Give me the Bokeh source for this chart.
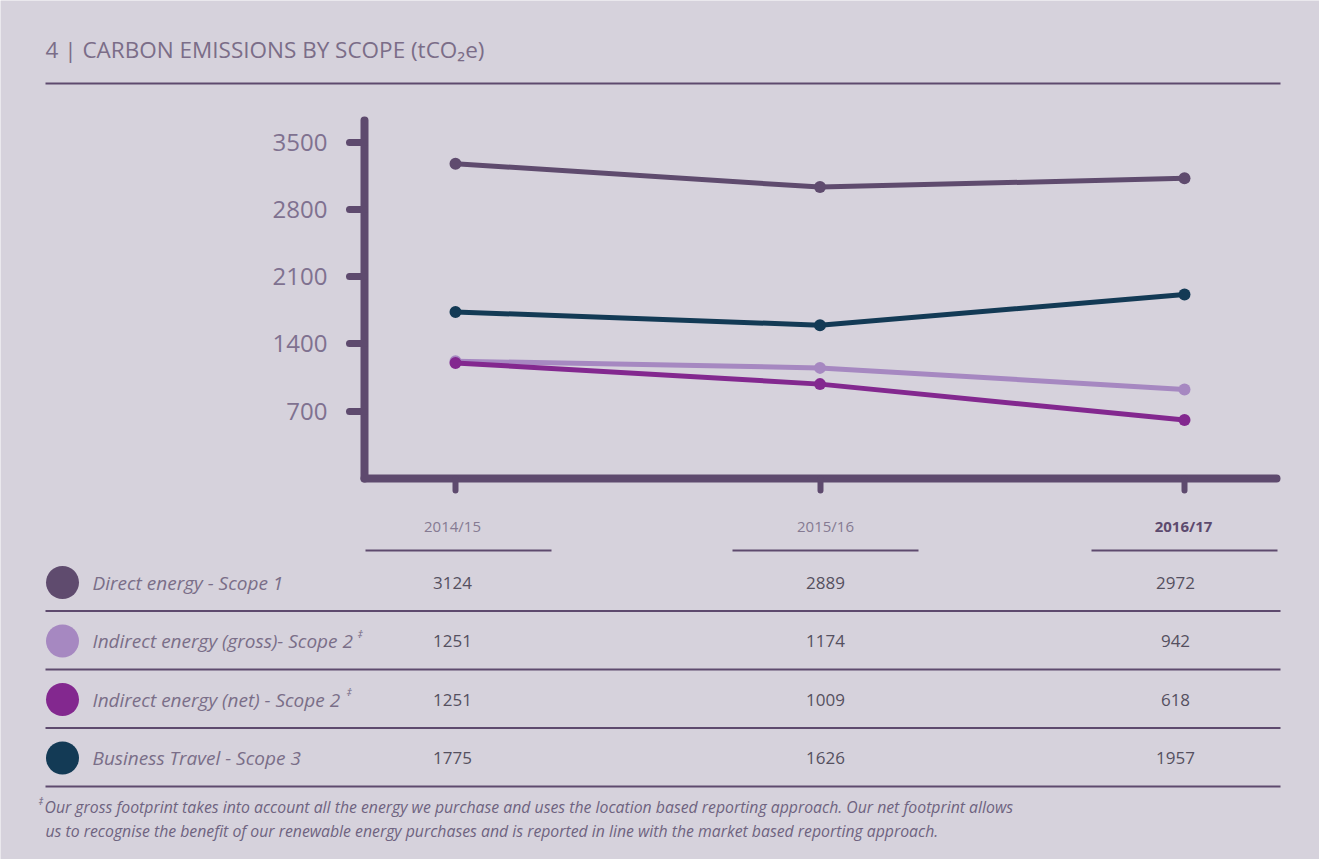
from bokeh.plotting import figure
from bokeh.models import Range1d, FixedTicker, LinearAxis
from bokeh.core.properties import value
from bokeh.embed import file_html
from bokeh.resources import INLINE

# ---------------- data ----------------
years = ["2014/15", "2015/16", "2016/17"]
series_names = [
    "Direct energy - Scope 1",
    "Indirect energy (gross)- Scope 2",
    "Indirect energy (net) - Scope 2",
    "Business Travel - Scope 3",
]
# values printed in the table
direct_table = [3124, 2889, 2972]
gross_table = [1251, 1174, 942]
net_table = [1251, 1009, 618]
travel_table = [1775, 1626, 1957]
# values as plotted in the line chart (read from point positions)
direct_plot = [3275, 3032, 3123]
gross_plot = [1221, 1151, 927]
net_plot = [1203, 982, 608]
travel_plot = [1733, 1595, 1914]
y_ticks = [700, 1400, 2100, 2800, 3500]

title_text = "4 | CARBON EMISSIONS BY SCOPE (tCO\u2082e)"
footnote_1 = "Our gross footprint takes into account all the energy we purchase and uses the location based reporting approach. Our net footprint allows"
footnote_2 = "us to recognise the benefit of our renewable energy purchases and is reported in line with the market based reporting approach."

# ---------------- style / layout ----------------
BG = "#d6d2dc"
AXIS = "#5e4a6e"
C_DIRECT = "#5f4b6e"
C_GROSS = "#a688c1"
C_NET = "#83288f"
C_TRAVEL = "#133a55"
FONT = value("Open Sans")
W, H = 1319, 859

# chart area on the page (pixels)
X0_PX, X_STEP = 455.0, 364.5        # position of first year, spacing between years
AX_LEFT, AX_RIGHT = 364.0, 1276.0   # axis extents
Y0_PX, Y_TOP_PX = 478.0, 120.0      # baseline (value 0) and top of the y axis
Y_MAX = 3725.0
PX_PER_UNIT = (Y0_PX - Y_TOP_PX) / Y_MAX

x_start = -X0_PX / X_STEP
x_end = (W - X0_PX) / X_STEP
y_start = -(H - Y0_PX) / PX_PER_UNIT
y_end = Y0_PX / PX_PER_UNIT

p = figure(width=W, height=H, x_range=Range1d(x_start, x_end), y_range=Range1d(y_start, y_end),
           output_backend="svg", toolbar_location=None,
           x_axis_location=None, y_axis_location=None,
           min_border=0, min_border_left=0, min_border_right=0,
           min_border_top=0, min_border_bottom=0)
p.background_fill_color = BG
p.border_fill_color = BG
p.outline_line_color = None
p.xgrid.grid_line_color = None
p.ygrid.grid_line_color = None
p.extra_x_ranges = {"px": Range1d(0, W)}
p.extra_y_ranges = {"py": Range1d(H, 0)}

ax_left_val = (AX_LEFT - X0_PX) / X_STEP
ax_right_val = (AX_RIGHT - X0_PX) / X_STEP

yaxis = LinearAxis(fixed_location=ax_left_val, bounds=(0, Y_MAX), ticker=FixedTicker(ticks=y_ticks))
xaxis = LinearAxis(fixed_location=0, bounds=(ax_left_val, ax_right_val),
                   ticker=FixedTicker(ticks=list(range(len(years)))))
for ax in (xaxis, yaxis):
    ax.axis_line_width = 8
    ax.axis_line_color = AXIS
    ax.axis_line_cap = "round"
    ax.major_tick_in = 0
    ax.major_tick_line_color = AXIS
    ax.major_tick_line_cap = "round"
    ax.minor_tick_line_color = None

yaxis.major_tick_out = 15
yaxis.major_tick_line_width = 7
yaxis.major_label_standoff = 22
yaxis.major_label_text_font = "Open Sans"
yaxis.major_label_text_font_size = "24px"
yaxis.major_label_text_color = "#7f7190"

xaxis.major_label_overrides = {i: "" for i in range(len(years))}
xaxis.major_tick_out = 12
xaxis.major_tick_line_width = 6
xaxis.major_label_text_font_size = "1px"
xaxis.major_label_standoff = 0

p.add_layout(yaxis, "left")
p.add_layout(xaxis, "below")
for g in p.grid:
    g.visible = False

# ---------------- title band ----------------
kw = dict(x_range_name="px", y_range_name="py")
p.text(x=[45], y=[49], text=[title_text], text_font=FONT, text_font_size="22.5px",
       text_color="#7b6d88", text_baseline="middle", text_align="left", **kw)
p.segment(x0=[45], y0=[83], x1=[1280], y1=[83], line_width=2, line_color=AXIS, **kw)

# ---------------- lines ----------------
xs = list(range(len(years)))
for vals, col in [(direct_plot, C_DIRECT), (travel_plot, C_TRAVEL),
                  (gross_plot, C_GROSS), (net_plot, C_NET)]:
    p.line(xs, vals, line_width=5, line_color=col, line_join="round", line_cap="round")
    p.scatter(xs, vals, size=12, marker="circle", fill_color=col, line_color=None)

# ---------------- table ----------------
header_x = [452, 825, 1183]
under_x = [458, 825, 1184]
value_x = [452, 825, 1175]
row_y0, row_h = 582, 58.5

p.text(x=header_x[:2], y=[525, 525], text=years[:2], text_font=FONT, text_font_size="15px",
       text_color="#857a92", text_baseline="middle", text_align="center", **kw)
p.text(x=header_x[2:], y=[525], text=years[2:], text_font=FONT, text_font_size="15px",
       text_font_style="bold", text_color="#5d4a6e", text_baseline="middle", text_align="center", **kw)
p.segment(x0=[u - 93 for u in under_x], y0=[550] * 3, x1=[u + 93 for u in under_x], y1=[550] * 3,
          line_width=2, line_color=AXIS, **kw)

colors = [C_DIRECT, C_GROSS, C_NET, C_TRAVEL]
tables = [direct_table, gross_table, net_table, travel_table]
row_ys = [row_y0 + i * row_h for i in range(len(series_names))]

p.scatter(x=[62] * 4, y=row_ys, size=33, marker="circle", fill_color=colors, line_color=None, **kw)
p.text(x=[92] * 4, y=row_ys, text=series_names, text_font=FONT, text_font_size="19px",
       text_font_style="italic", text_color="#7a6e88", text_baseline="middle", text_align="left", **kw)
# superscript daggers on the Scope 2 rows
p.text(x=[357, 346], y=[row_ys[1] - 8, row_ys[2] - 8], text=["\u2021", "\u2021"], text_font=FONT,
       text_font_size="11px", text_font_style="italic", text_color="#7a6e88",
       text_baseline="middle", text_align="left", **kw)

for ry, vals in zip(row_ys, tables):
    p.text(x=value_x, y=[ry] * 3, text=[str(v) for v in vals], text_font=FONT, text_font_size="17px",
           text_color="#55505f", text_baseline="middle", text_align="center", **kw)

p.segment(x0=[45] * 4, y0=[r + 28.5 for r in row_ys], x1=[1280] * 4, y1=[r + 28.5 for r in row_ys],
          line_width=2, line_color=AXIS, **kw)

# footnote
p.text(x=[38], y=[800], text=["\u2021"], text_font=FONT, text_font_size="10px",
       text_font_style="italic", text_color="#6e6380", text_baseline="middle", text_align="left", **kw)
p.text(x=[44, 45], y=[806, 830], text=[footnote_1, footnote_2], text_font=FONT, text_font_size="15.8px",
       text_font_style="italic", text_color="#6e6380", text_baseline="middle", text_align="left", **kw)

open("out.html", "w").write(file_html(p, INLINE))
